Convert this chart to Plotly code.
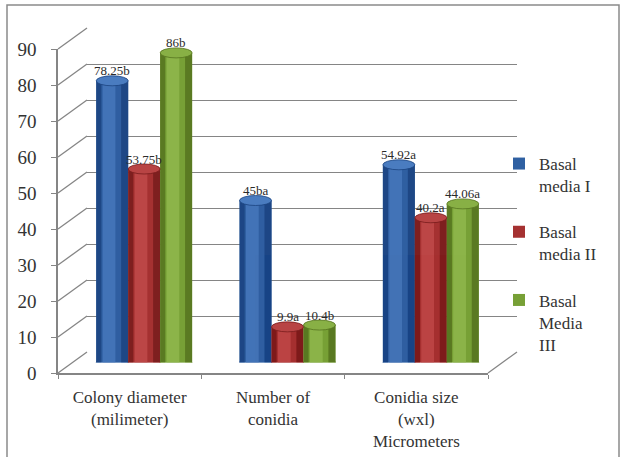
import plotly.graph_objects as go

# ---- data -------------------------------------------------------------
categories = ["Colony diameter<br>(milimeter)", "Number of<br>conidia",
              "Conidia size<br>(wxl)<br>Micrometers"]
series_names = ["Basal<br>media I", "Basal<br>media II", "Basal<br>Media<br>III"]
media_I = [78.25, 45, 54.92]
media_II = [53.75, 9.9, 40.2]
media_III = [86, 10.4, 44.06]
labels_I = ["78.25b", "45ba", "54.92a"]
labels_II = ["53.75b", "9.9a", "40.2a"]
labels_III = ["86b", "10.4b", "44.06a"]
y_ticks = list(range(0, 100, 10))

values = [media_I, media_II, media_III]
labels = [labels_I, labels_II, labels_III]

# ---- styling ----------------------------------------------------------
W, H = 621, 457
FONT = "Liberation Serif"
GRID = "#858585"
palettes = [
    dict(edge="#1c4480", mid="#2f60a2", light="#4677bb", top="#4a7cc0"),
    dict(edge="#771c1c", mid="#a53131", light="#bf4a4a", top="#b84444"),
    dict(edge="#55731f", mid="#77a036", light="#8fb74c", top="#88b045"),
]

# pseudo-3D frame geometry (pixels)
FX0, FX1 = 58, 488          # front floor edge
FY0, FY90 = 373, 49         # front plane: value 0 and value 90
DX, DY = 29, -21            # depth offset front -> back wall
YMAX = 90


def px(x):
    return x / W


def py(y):
    return 1 - y / H


def front_y(v):
    return FY0 + (FY90 - FY0) * v / YMAX


BAR_W = 0.223               # bar width in category units
CAP_H = 1.39                # half height of the cylinder caps in data units

fig = go.Figure()

# back wall subplot (gridlines only)
fig.add_trace(go.Scatter(x=[None], y=[None], xaxis="x", yaxis="y",
                         showlegend=False, hoverinfo="skip"))
# front plane subplot (value axis + category labels)
fig.add_trace(go.Scatter(x=[None], y=[None], xaxis="x2", yaxis="y2",
                         showlegend=False, hoverinfo="skip"))

# cylinders on the middle-depth plane, built from shaded strips
strips = [  # (width fraction, centre shift fraction, colour key)
    (1.00, 0.00, "mid"),
    (0.16, -0.42, "edge"),
    (0.22, 0.39, "edge"),
    (0.40, -0.10, "light"),
]
xs = list(range(len(categories)))
for i, (vals, pal, name) in enumerate(zip(values, palettes, series_names)):
    for k, (fw, sh, key) in enumerate(strips):
        off = (i - 1) * BAR_W + sh * BAR_W - fw * BAR_W / 2
        fig.add_trace(go.Bar(
            x=xs, y=vals, xaxis="x3", yaxis="y3",
            width=[fw * BAR_W] * len(xs), offset=[off] * len(xs),
            marker=dict(color=pal[key], line=dict(width=0)),
            opacity=1 if k == 0 else 0.85,
            name=name, legendgroup=f"g{i}", showlegend=(k == 0),
            hoverinfo="skip",
        ))

shapes = []
annotations = []
for i, (vals, labs, pal) in enumerate(zip(values, labels, palettes)):
    for j, (v, lab) in enumerate(zip(vals, labs)):
        c = j + (i - 1) * BAR_W
        # bottom cap
        shapes.append(dict(type="circle", xref="x3", yref="y3", layer="below",
                           x0=c - BAR_W / 2, x1=c + BAR_W / 2,
                           y0=-CAP_H, y1=CAP_H,
                           fillcolor=pal["mid"], line=dict(color=pal["edge"], width=0.6)))
        # top cap
        shapes.append(dict(type="circle", xref="x3", yref="y3", layer="above",
                           x0=c - BAR_W / 2, x1=c + BAR_W / 2,
                           y0=v - CAP_H, y1=v + CAP_H,
                           fillcolor=pal["top"], line=dict(color=pal["edge"], width=0.8)))
        annotations.append(dict(xref="x3", yref="y3", x=c, y=v, text=lab,
                                showarrow=False, yanchor="middle", yshift=10,
                                font=dict(family=FONT, size=13, color="#2a2a2a")))

# side wall connectors and floor edges
for v in y_ticks:
    shapes.append(dict(type="line", xref="paper", yref="paper", layer="below",
                       x0=px(FX0), y0=py(front_y(v)),
                       x1=px(FX0 + DX), y1=py(front_y(v) + DY),
                       line=dict(color=GRID, width=1.3)))
shapes.append(dict(type="line", xref="paper", yref="paper", layer="below",
                   x0=px(FX1), y0=py(FY0), x1=px(FX1 + DX), y1=py(FY0 + DY),
                   line=dict(color=GRID, width=1.3)))
# outer frame
shapes.append(dict(type="rect", xref="paper", yref="paper", layer="below",
                   x0=px(7), y0=py(470), x1=px(619), y1=py(5),
                   line=dict(color="#8a8a8a", width=1.5)))

axis_off = dict(showgrid=False, zeroline=False, showticklabels=False,
                showline=False, ticks="", automargin=False)

fig.update_layout(
    width=W, height=H,
    margin=dict(l=0, r=0, t=0, b=0, autoexpand=False),
    paper_bgcolor="white", plot_bgcolor="rgba(0,0,0,0)",
    barmode="overlay",
    font=dict(family=FONT, color="#333333"),
    # back wall
    xaxis=dict(domain=[px(FX0 + DX), px(FX1 + DX)], range=[0, 1], anchor="y", **axis_off),
    yaxis=dict(domain=[py(FY0 + DY), py(FY90 + DY)], range=[0, YMAX], anchor="x",
               tickvals=y_ticks, showgrid=True, gridcolor=GRID, gridwidth=1.3,
               zeroline=False, showticklabels=False, showline=False, ticks="",
               automargin=False),
    # front plane
    xaxis2=dict(domain=[px(FX0), px(FX1)], range=[-0.5, 2.5], anchor="y2",
                tickvals=xs, ticktext=categories, ticks="",
                tickfont=dict(family=FONT, size=17, color="#333333"),
                ticklabelstandoff=8, automargin=False,
                showline=True, linecolor=GRID, linewidth=1.5,
                showgrid=False, zeroline=False,
                minor=dict(tickvals=[-0.5, 0.5, 1.5, 2.5], ticks="outside",
                           ticklen=4, tickcolor=GRID, tickwidth=1)),
    yaxis2=dict(domain=[py(FY0), py(FY90)], range=[0, YMAX], anchor="x2",
                tickvals=y_ticks, ticks="outside", ticklen=5, tickcolor=GRID,
                tickfont=dict(family=FONT, size=19, color="#333333"),
                ticklabelstandoff=11, automargin=False,
                showline=True, linecolor=GRID, linewidth=1.5,
                showgrid=False, zeroline=False),
    # middle plane holding the cylinders
    xaxis3=dict(domain=[px(FX0 + DX / 2), px(FX1 + DX / 2)], range=[-0.5, 2.5],
                anchor="y3", **axis_off),
    yaxis3=dict(domain=[py(FY0 + DY / 2), py(FY90 + DY / 2)], range=[0, YMAX],
                anchor="x3", **axis_off),
    legend=dict(x=px(499), y=py(146), xanchor="left", yanchor="top",
                font=dict(family=FONT, size=17, color="#333333"),
                bgcolor="rgba(0,0,0,0)", tracegroupgap=21, valign="top",
                traceorder="grouped"),
    shapes=shapes,
    annotations=annotations,
)

fig.write_html("out.html")
